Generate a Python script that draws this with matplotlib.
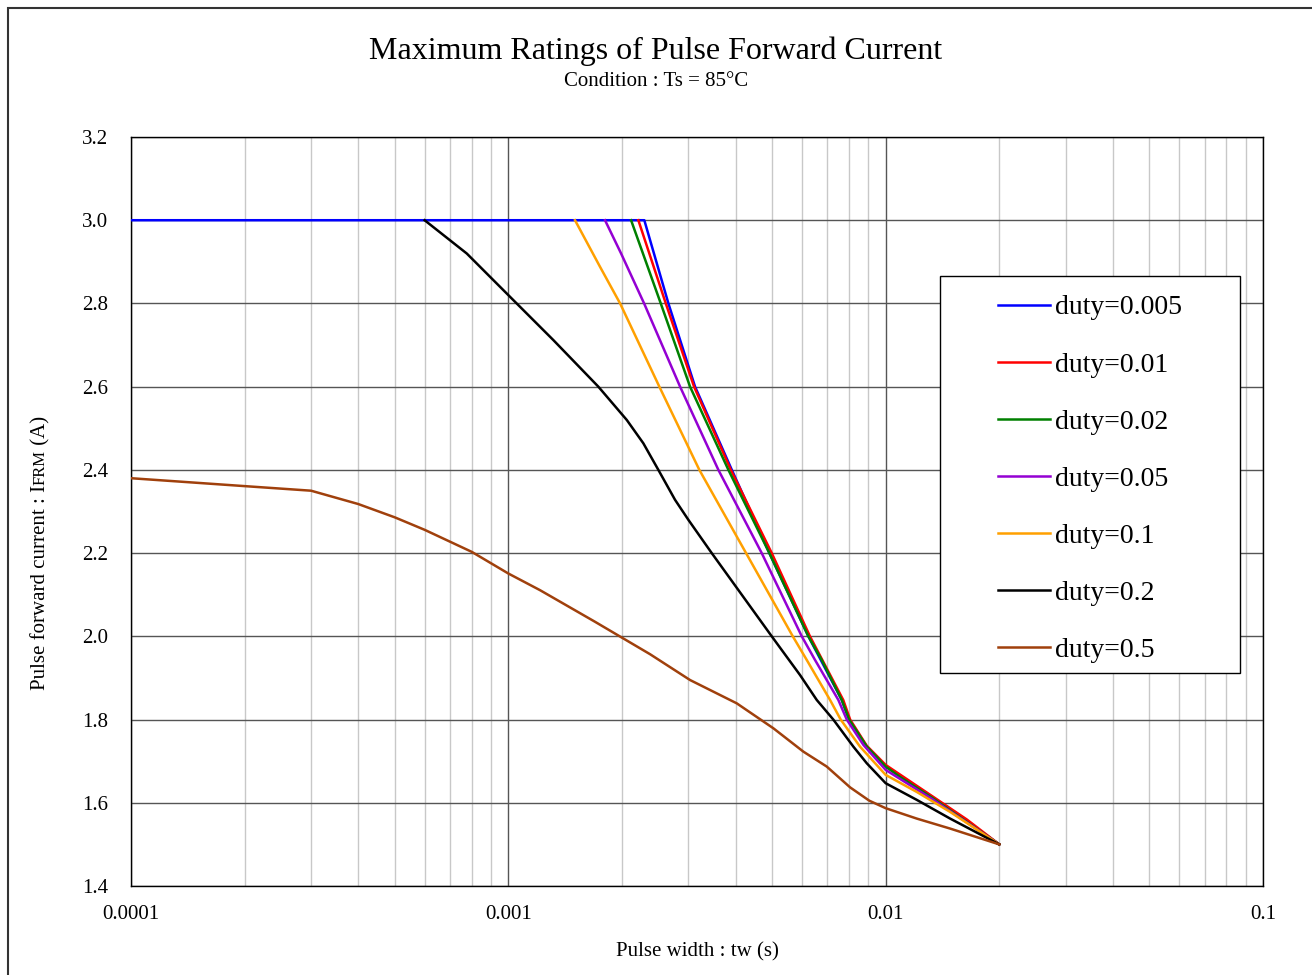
import matplotlib
matplotlib.use('Agg')
import matplotlib.pyplot as plt
from matplotlib.patches import Rectangle
from matplotlib.ticker import FixedLocator, NullFormatter

plt.rcParams['font.family'] = ['Liberation Serif', 'DejaVu Serif']

# pulse width (s) and pulse forward current (A)
tw_005 = [1e-4, 2.293e-3, 2.656e-3, 3.125e-3, 3.911e-3, 4.918e-3, 6.24e-3, 7.651e-3, 8.0e-3, 8.91e-3, 0.01, 0.01338, 0.0164, 0.02]
if_005 = [3.0, 3.0, 2.80, 2.60, 2.40, 2.20, 2.00, 1.847, 1.80, 1.735, 1.688, 1.611, 1.556, 1.5]

tw_01 = [2.211e-3, 2.614e-3, 3.106e-3, 3.887e-3, 4.99e-3, 6.30e-3, 7.72e-3, 8.05e-3, 8.91e-3, 0.01, 0.01338, 0.0164, 0.02]
if_01 = [3.0, 2.80, 2.60, 2.40, 2.20, 2.00, 1.847, 1.80, 1.737, 1.691, 1.614, 1.560, 1.5]

tw_02 = [2.115e-3, 2.535e-3, 3.031e-3, 3.83e-3, 4.918e-3, 6.24e-3, 6.77e-3, 7.651e-3, 8.0e-3, 8.91e-3, 0.01, 0.01092, 0.01338, 0.0164, 0.02]
if_02 = [3.0, 2.80, 2.60, 2.40, 2.20, 2.00, 1.943, 1.847, 1.80, 1.735, 1.687, 1.662, 1.610, 1.554, 1.5]

tw_05 = [1.804e-3, 1.99e-3, 2.29e-3, 2.852e-3, 3.603e-3, 4.694e-3, 5.993e-3, 6.5e-3, 7.493e-3, 7.886e-3, 8.73e-3, 0.01, 0.01338, 0.02]
if_05 = [3.0, 2.92, 2.80, 2.60, 2.40, 2.20, 2.00, 1.943, 1.847, 1.80, 1.739, 1.679, 1.607, 1.5]

tw_1 = [1.502e-3, 1.75e-3, 1.978e-3, 2.513e-3, 3.208e-3, 4.266e-3, 5.674e-3, 6.18e-3, 7.123e-3, 7.6e-3, 8.55e-3, 0.01, 0.01209, 0.01482, 0.02]
if_1 = [3.0, 2.888, 2.80, 2.60, 2.40, 2.20, 2.00, 1.943, 1.847, 1.80, 1.735, 1.667, 1.626, 1.578, 1.5]

tw_2 = [6.0e-4, 7.76e-4, 1.031e-3, 1.316e-3, 1.732e-3, 2.06e-3, 2.279e-3, 2.498e-3, 2.766e-3, 3.0e-3, 3.46e-3, 4.99e-3, 5.93e-3, 6.568e-3, 7.265e-3, 8.21e-3, 8.91e-3, 0.01, 0.01209, 0.01482, 0.02]
if_2 = [3.0, 2.92, 2.808, 2.712, 2.60, 2.52, 2.464, 2.40, 2.328, 2.28, 2.20, 2.00, 1.907, 1.847, 1.80, 1.735, 1.695, 1.647, 1.607, 1.562, 1.5]

tw_5 = [1e-4, 2e-4, 3e-4, 4e-4, 5e-4, 6e-4, 8e-4, 1e-3, 1.213e-3, 1.697e-3, 2.375e-3, 3.031e-3, 4.03e-3, 5.04e-3, 6.05e-3, 6.98e-3, 8.05e-3, 9.05e-3, 0.01, 0.01209, 0.01482, 0.02]
if_5 = [2.38, 2.361, 2.35, 2.318, 2.286, 2.256, 2.203, 2.151, 2.111, 2.035, 1.957, 1.895, 1.839, 1.779, 1.723, 1.687, 1.637, 1.605, 1.587, 1.562, 1.538, 1.5]

series = [
    ('duty=0.005', tw_005, if_005, '#0000FF'),
    ('duty=0.01', tw_01, if_01, '#FF0000'),
    ('duty=0.02', tw_02, if_02, '#008000'),
    ('duty=0.05', tw_05, if_05, '#9400D3'),
    ('duty=0.1', tw_1, if_1, '#FFA000'),
    ('duty=0.2', tw_2, if_2, '#000000'),
    ('duty=0.5', tw_5, if_5, '#A0400C'),
]

x_ticks = [1e-4, 1e-3, 1e-2, 1e-1]
x_ticklabels = ['0.0001', '0.001', '0.01', '0.1']
y_ticks = [1.4, 1.6, 1.8, 2.0, 2.2, 2.4, 2.6, 2.8, 3.0, 3.2]

W, H = 1312, 975
fig = plt.figure(figsize=(W / 100, H / 100), dpi=100)
ax = fig.add_axes([131 / W, 1 - 886 / H, (1263 - 131) / W, (886 - 137) / H])

lines = []
for name, t, i, c in series:
    ln, = ax.plot(t, i, color=c, lw=1.8, label=name, zorder=3)
    lines.append(ln)

ax.set_xscale('log')
ax.set_xlim(1e-4, 1e-1)
ax.set_ylim(1.4, 3.2)
ax.xaxis.set_major_locator(FixedLocator(x_ticks))
ax.set_xticklabels(x_ticklabels)
minors = [m * 10.0 ** e for e in (-4, -3, -2) for m in range(2, 10)]
ax.xaxis.set_minor_locator(FixedLocator(minors))
ax.xaxis.set_minor_formatter(NullFormatter())
ax.set_yticks(y_ticks)
ax.set_yticklabels(['%.1f' % v for v in y_ticks])

ax.grid(which='minor', axis='x', color='#c8c8c8', lw=1)
ax.grid(which='major', axis='x', color='#555555', lw=1)
ax.grid(which='major', axis='y', color='#555555', lw=1)
ax.set_axisbelow(True)
ax.tick_params(which='both', length=0, labelsize=15)
ax.tick_params(axis='y', pad=16.5)
ax.tick_params(axis='x', pad=13.5)
for s in ax.spines.values():
    s.set_color('black')
    s.set_linewidth(1)

ax.set_xlabel('Pulse width : tw (s)', fontsize=15, labelpad=13.5)

fig.text(0.5, 1 - 51 / H, 'Maximum Ratings of Pulse Forward Current', ha='center', va='center', fontsize=23)
fig.text(0.5, 1 - 81 / H, 'Condition : Ts = 85\u00b0C', ha='center', va='center', fontsize=15)

# y label: "FRM" in smaller capitals on the same baseline
fig.canvas.draw()
r = fig.canvas.get_renderer()
bx = 45
y0 = 690
parts = [('Pulse forward current : I', 15), ('FRM', 12), (' (A)', 15)]
for txt, fs in parts:
    t = fig.text(bx / W, 1 - y0 / H, txt, rotation=90, rotation_mode='anchor',
                 ha='left', va='baseline', fontsize=fs)
    ext = t.get_window_extent(r)
    y0 -= ext.height

# legend box
ax.add_patch(Rectangle((940 / W, 1 - 673 / H), 300 / W, 397 / H, transform=fig.transFigure,
                       facecolor='white', edgecolor='black', lw=1, zorder=4, clip_on=False))
leg = fig.legend(handles=lines, loc='upper left', bbox_to_anchor=(998 / W, 1 - 295 / H),
                 frameon=False, fontsize=20, borderpad=0, borderaxespad=0,
                 handlelength=1.87, handletextpad=0.2, labelspacing=1.14)
leg.set_zorder(5)

fig.add_artist(Rectangle((8 / W, -0.1), 1.2, 1.1 - 8 / H, transform=fig.transFigure,
                         fill=False, edgecolor='#333333', lw=1.5))

fig.savefig('out.png', dpi=100)
